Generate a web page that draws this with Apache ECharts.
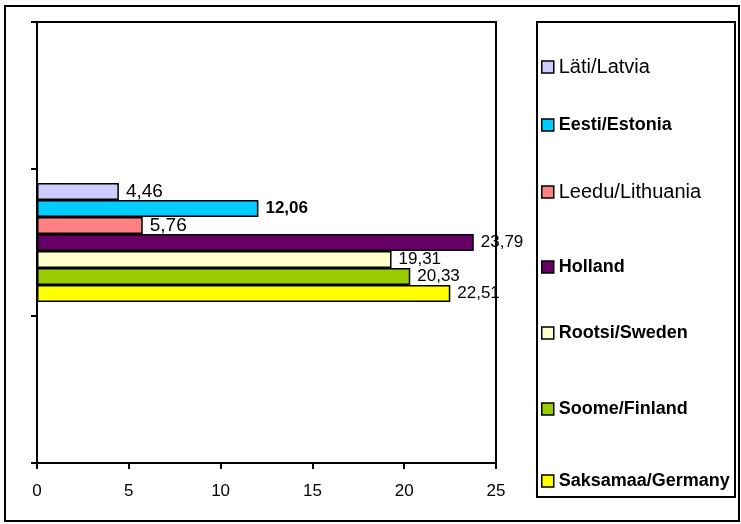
<!DOCTYPE html>
<html><head><meta charset="utf-8">
<script src="https://cdn.jsdelivr.net/npm/echarts@6/dist/echarts.min.js"></script>
<style>html,body{margin:0;padding:0;background:#fff}#c{width:741px;height:524px}</style>
</head><body><div id="c"></div>
<script>
const categories = ['', '', ''];
const seriesNames = ['Läti/Latvia', 'Eesti/Estonia', 'Leedu/Lithuania', 'Holland', 'Rootsi/Sweden', 'Soome/Finland', 'Saksamaa/Germany'];
const seriesValues = [4.46, 12.06, 5.76, 23.79, 19.31, 20.33, 22.51];
const seriesColors = ['#CCCCFF', '#00CCFF', '#FF8080', '#660066', '#FFFFCC', '#99CC00', '#FFFF00'];
const boldLegend = [false, true, false, true, true, true, true];
const xTicks = { min: 0, max: 25, interval: 5 };

const FONT = 'Arial, "Liberation Sans", sans-serif';
const chart = echarts.init(document.getElementById('c'));

const series = seriesNames.map((name, i) => ({
  name: name,
  type: 'bar',
  data: categories.map((c, k) => k === 1 ? seriesValues[i] : '-'),
  barWidth: 17,
  barGap: '0%',
  itemStyle: { color: seriesColors[i], borderColor: '#000', borderWidth: 1.5 },
  label: {
    show: true,
    position: 'right',
    distance: 7,
    color: '#000',
    fontFamily: FONT,
    fontSize: (i === 0 || i === 2) ? 19 : 17,
    fontWeight: i === 1 ? 'bold' : 'normal',
    formatter: p => p.value.toFixed(2).replace('.', ',')
  }
}));

const legendCenters = [67, 125, 192, 267, 333, 409, 481];
const legends = seriesNames.map((name, i) => ({
  orient: 'vertical', left: 536, top: legendCenters[i] - 16,
  icon: 'rect', itemWidth: 12, itemHeight: 12, itemGap: 4,
  itemStyle: { borderColor: '#000', borderWidth: 1.5 },
  data: [name],
  textStyle: {
    color: '#000', fontFamily: FONT, lineHeight: 22,
    rich: {
      n: { fontSize: 20, fontFamily: FONT, color: '#000', lineHeight: 22 },
      b: { fontSize: 18, fontWeight: 'bold', fontFamily: FONT, color: '#000', lineHeight: 22 }
    }
  },
  formatter: nm => boldLegend[i] ? '{b|' + nm + '}' : '{n|' + nm + '}'
}));

chart.setOption({
  animation: false,
  backgroundColor: '#fff',
  grid: { left: 37, right: 245, top: 22, bottom: 61, show: true, borderColor: '#000', borderWidth: 2, backgroundColor: 'transparent' },
  xAxis: {
    type: 'value', min: xTicks.min, max: xTicks.max, interval: xTicks.interval,
    splitLine: { show: false },
    axisLine: { show: true, lineStyle: { color: '#000', width: 2 } },
    axisTick: { show: true, length: 6, lineStyle: { color: '#000', width: 2 } },
    axisLabel: { color: '#000', fontFamily: FONT, fontSize: 17, margin: 20 }
  },
  yAxis: {
    type: 'category', data: categories, inverse: true,
    axisLine: { show: true, lineStyle: { color: '#000', width: 2 } },
    axisTick: { show: true, length: 6, lineStyle: { color: '#000', width: 2 } },
    axisLabel: { show: false }
  },
  legend: legends,
  graphic: [
    { type: 'rect', shape: { x: 5, y: 6, width: 734, height: 515 }, style: { fill: 'none', stroke: '#000', lineWidth: 2 }, z: 100 },
    { type: 'rect', shape: { x: 537, y: 22, width: 198, height: 475 }, style: { fill: 'none', stroke: '#000', lineWidth: 2 }, z: 100 }
  ],
  series: series
});
</script></body></html>
